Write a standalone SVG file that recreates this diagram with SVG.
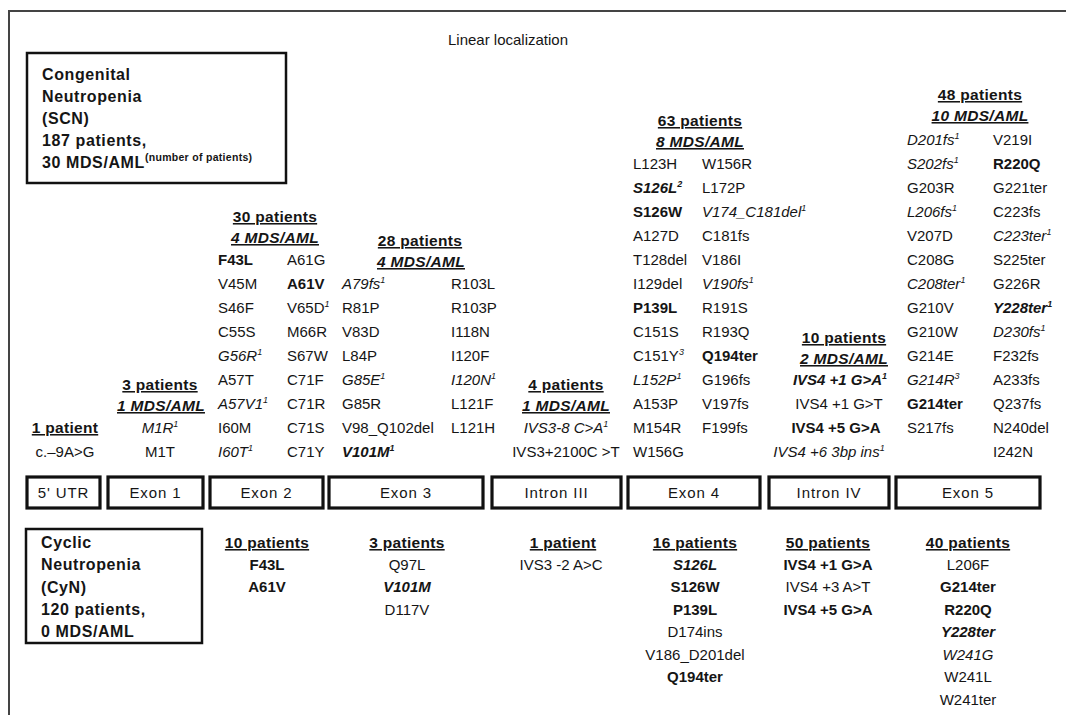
<svg xmlns="http://www.w3.org/2000/svg" width="1066" height="715" viewBox="0 0 1066 715">
<style>
text{font-family:"Liberation Sans",Arial,Helvetica,sans-serif;font-size:15px;fill:#151515}
.b{font-weight:bold}
.i{font-style:italic}
.m{text-anchor:middle}
.h{font-weight:bold;text-decoration:underline;font-size:15.5px;letter-spacing:0.3px}
.k{font-weight:bold;font-size:16px;letter-spacing:0.6px}
.sup{font-size:9px}
.box{fill:#fff;stroke:#111;stroke-width:3.2}
.lbl{font-size:15px;letter-spacing:0.9px;text-anchor:middle}
.frame{fill:none;stroke:#444;stroke-width:2}
</style>
<rect width="1066" height="715" fill="#fff"/>
<path class="frame" d="M9,715 V11 H1066"/>
<text x="508" y="45" class="m">Linear localization</text>

<g id="scn-box">
<rect x="27" y="53" width="259" height="130" fill="#fff" stroke="#111" stroke-width="2.5"/>
<text class="k" x="42" y="80">Congenital</text>
<text class="k" x="42" y="102">Neutropenia</text>
<text class="k" x="42" y="124">(SCN)</text>
<text class="k" x="42" y="146">187 patients,</text>
<text class="k" x="42" y="168">30 MDS/AML<tspan font-size="10.5" letter-spacing="0.3" dy="-7">(number of patients)</tspan></text>
</g>

<g id="cyn-box">
<rect x="26" y="529" width="176" height="114" fill="#fff" stroke="#111" stroke-width="2.5"/>
<text class="k" x="41" y="548">Cyclic</text>
<text class="k" x="41" y="570">Neutropenia</text>
<text class="k" x="41" y="593">(CyN)</text>
<text class="k" x="41" y="615">120 patients,</text>
<text class="k" x="41" y="637">0 MDS/AML</text>
</g>

<g id="gene-regions">
<g id="r-utr"><rect class="box" x="27" y="477" width="73" height="31"/><text class="lbl" x="63.5" y="498">5' UTR</text></g>
<g id="r-exon1"><rect class="box" x="108" y="477" width="95" height="31"/><text class="lbl" x="155.5" y="498">Exon 1</text></g>
<g id="r-exon2"><rect class="box" x="210" y="477" width="113" height="31"/><text class="lbl" x="266.5" y="498">Exon 2</text></g>
<g id="r-exon3"><rect class="box" x="329" y="477" width="154" height="31"/><text class="lbl" x="406" y="498">Exon 3</text></g>
<g id="r-intron3"><rect class="box" x="492" y="477" width="129" height="31"/><text class="lbl" x="556.5" y="498">Intron III</text></g>
<g id="r-exon4"><rect class="box" x="628" y="477" width="132" height="31"/><text class="lbl" x="694" y="498">Exon 4</text></g>
<g id="r-intron4"><rect class="box" x="769" y="477" width="120" height="31"/><text class="lbl" x="829" y="498">Intron IV</text></g>
<g id="r-exon5"><rect class="box" x="896" y="477" width="144" height="31"/><text class="lbl" x="968" y="498">Exon 5</text></g>
</g>

<g id="scn-utr">
<text class="h m" x="65" y="433">1 patient</text>
<text class="m" x="65" y="457">c.–9A&gt;G</text>
</g>

<g id="scn-exon1">
<text class="h m" x="160" y="390">3 patients</text>
<text class="h i m" x="161" y="411">1 MDS/AML</text>
<text class="i m" x="160" y="433">M1R<tspan class="sup" dy="-6">1</tspan></text>
<text class="m" x="160" y="457">M1T</text>
</g>

<g id="scn-exon2">
<text class="h m" x="275" y="222">30 patients</text>
<text class="h i m" x="275" y="243">4 MDS/AML</text>
<text x="218" y="265" class="b">F43L</text>
<text x="218" y="289">V45M</text>
<text x="218" y="313">S46F</text>
<text x="218" y="337">C55S</text>
<text x="218" y="361" class="i">G56R<tspan class="sup" dy="-6">1</tspan></text>
<text x="218" y="385">A57T</text>
<text x="218" y="409" class="i">A57V1<tspan class="sup" dy="-6">1</tspan></text>
<text x="218" y="433">I60M</text>
<text x="218" y="457" class="i">I60T<tspan class="sup" dy="-6">1</tspan></text>
<text x="287" y="265">A61G</text>
<text x="287" y="289" class="b">A61V</text>
<text x="287" y="313">V65D<tspan class="sup i" dy="-6">1</tspan></text>
<text x="287" y="337">M66R</text>
<text x="287" y="361">S67W</text>
<text x="287" y="385">C71F</text>
<text x="287" y="409">C71R</text>
<text x="287" y="433">C71S</text>
<text x="287" y="457">C71Y</text>
</g>

<g id="scn-exon3">
<text class="h m" x="420" y="246">28 patients</text>
<text class="h i m" x="421" y="267">4 MDS/AML</text>
<text x="342" y="289" class="i">A79fs<tspan class="sup" dy="-6">1</tspan></text>
<text x="342" y="313">R81P</text>
<text x="342" y="337">V83D</text>
<text x="342" y="361">L84P</text>
<text x="342" y="385" class="i">G85E<tspan class="sup" dy="-6">1</tspan></text>
<text x="342" y="409">G85R</text>
<text x="342" y="433">V98_Q102del</text>
<text x="342" y="457" class="b i">V101M<tspan class="sup" dy="-6">1</tspan></text>
<text x="451" y="289">R103L</text>
<text x="451" y="313">R103P</text>
<text x="451" y="337">I118N</text>
<text x="451" y="361">I120F</text>
<text x="451" y="385" class="i">I120N<tspan class="sup" dy="-6">1</tspan></text>
<text x="451" y="409">L121F</text>
<text x="451" y="433">L121H</text>
</g>

<g id="scn-intron3">
<text class="h m" x="566" y="390">4 patients</text>
<text class="h i m" x="566" y="411">1 MDS/AML</text>
<text class="i m" x="566" y="433">IVS3-8 C&gt;A<tspan class="sup" dy="-6">1</tspan></text>
<text class="m" x="566" y="457">IVS3+2100C &gt;T</text>
</g>

<g id="scn-exon4">
<text class="h m" x="700" y="126">63 patients</text>
<text class="h i m" x="700" y="147">8 MDS/AML</text>
<text x="633" y="169">L123H</text>
<text x="633" y="193" class="b i">S126L<tspan class="sup" dy="-6">2</tspan></text>
<text x="633" y="217" class="b">S126W</text>
<text x="633" y="241">A127D</text>
<text x="633" y="265">T128del</text>
<text x="633" y="289">I129del</text>
<text x="633" y="313" class="b">P139L</text>
<text x="633" y="337">C151S</text>
<text x="633" y="361">C151Y<tspan class="sup i" dy="-6">3</tspan></text>
<text x="633" y="385" class="i">L152P<tspan class="sup" dy="-6">1</tspan></text>
<text x="633" y="409">A153P</text>
<text x="633" y="433">M154R</text>
<text x="633" y="457">W156G</text>
<text x="702" y="169">W156R</text>
<text x="702" y="193">L172P</text>
<text x="702" y="217" class="i">V174_C181del<tspan class="sup" dy="-6">1</tspan></text>
<text x="702" y="241">C181fs</text>
<text x="702" y="265">V186I</text>
<text x="702" y="289" class="i">V190fs<tspan class="sup" dy="-6">1</tspan></text>
<text x="702" y="313">R191S</text>
<text x="702" y="337">R193Q</text>
<text x="702" y="361" class="b">Q194ter</text>
<text x="702" y="385">G196fs</text>
<text x="702" y="409">V197fs</text>
<text x="702" y="433">F199fs</text>
</g>

<g id="scn-intron4">
<text class="h m" x="844" y="343">10 patients</text>
<text class="h i m" x="844" y="364">2 MDS/AML</text>
<text class="b i m" x="840" y="385">IVS4 +1 G&gt;A<tspan class="sup" dy="-6">1</tspan></text>
<text class="m" x="839" y="409">IVS4 +1 G&gt;T</text>
<text class="b m" x="836" y="433">IVS4 +5 G&gt;A</text>
<text class="i m" x="829" y="457">IVS4 +6 3bp ins<tspan class="sup" dy="-6">1</tspan></text>
</g>

<g id="scn-exon5">
<text class="h m" x="980" y="100">48 patients</text>
<text class="h i m" x="980" y="121">10 MDS/AML</text>
<text x="907" y="145" class="i">D201fs<tspan class="sup" dy="-6">1</tspan></text>
<text x="907" y="169" class="i">S202fs<tspan class="sup" dy="-6">1</tspan></text>
<text x="907" y="193">G203R</text>
<text x="907" y="217" class="i">L206fs<tspan class="sup" dy="-6">1</tspan></text>
<text x="907" y="241">V207D</text>
<text x="907" y="265">C208G</text>
<text x="907" y="289" class="i">C208ter<tspan class="sup" dy="-6">1</tspan></text>
<text x="907" y="313">G210V</text>
<text x="907" y="337">G210W</text>
<text x="907" y="361">G214E</text>
<text x="907" y="385" class="i">G214R<tspan class="sup" dy="-6">3</tspan></text>
<text x="907" y="409" class="b">G214ter</text>
<text x="907" y="433">S217fs</text>
<text x="993" y="145">V219I</text>
<text x="993" y="169" class="b">R220Q</text>
<text x="993" y="193">G221ter</text>
<text x="993" y="217">C223fs</text>
<text x="993" y="241" class="i">C223ter<tspan class="sup" dy="-6">1</tspan></text>
<text x="993" y="265">S225ter</text>
<text x="993" y="289">G226R</text>
<text x="993" y="313" class="b i">Y228ter<tspan class="sup" dy="-6">1</tspan></text>
<text x="993" y="337" class="i">D230fs<tspan class="sup" dy="-6">1</tspan></text>
<text x="993" y="361">F232fs</text>
<text x="993" y="385">A233fs</text>
<text x="993" y="409">Q237fs</text>
<text x="993" y="433">N240del</text>
<text x="993" y="457">I242N</text>
</g>

<g id="cyn-exon2">
<text class="h m" x="267" y="548">10 patients</text>
<text class="b m" x="267" y="570">F43L</text>
<text class="b m" x="267" y="592">A61V</text>
</g>

<g id="cyn-exon3">
<text class="h m" x="407" y="548">3 patients</text>
<text class="m" x="407" y="570">Q97L</text>
<text class="b i m" x="407" y="592">V101M</text>
<text class="m" x="407" y="615">D117V</text>
</g>

<g id="cyn-intron3">
<text class="h m" x="563" y="548">1 patient</text>
<text class="m" x="561" y="570">IVS3 -2 A&gt;C</text>
</g>

<g id="cyn-exon4">
<text class="h m" x="695" y="548">16 patients</text>
<text class="b i m" x="695" y="570">S126L</text>
<text class="b m" x="695" y="592">S126W</text>
<text class="b m" x="695" y="615">P139L</text>
<text class="m" x="695" y="637">D174ins</text>
<text class="m" x="695" y="660">V186_D201del</text>
<text class="b m" x="695" y="682">Q194ter</text>
</g>

<g id="cyn-intron4">
<text class="h m" x="828" y="548">50 patients</text>
<text class="b m" x="828" y="570">IVS4 +1 G&gt;A</text>
<text class="m" x="828" y="592">IVS4 +3 A&gt;T</text>
<text class="b m" x="828" y="615">IVS4 +5 G&gt;A</text>
</g>

<g id="cyn-exon5">
<text class="h m" x="968" y="548">40 patients</text>
<text class="m" x="968" y="570">L206F</text>
<text class="b m" x="968" y="592">G214ter</text>
<text class="b m" x="968" y="615">R220Q</text>
<text class="b i m" x="968" y="637">Y228ter</text>
<text class="i m" x="968" y="660">W241G</text>
<text class="m" x="968" y="682">W241L</text>
<text class="m" x="968" y="705">W241ter</text>
</g>

<g id="connectors"></g>
</svg>
